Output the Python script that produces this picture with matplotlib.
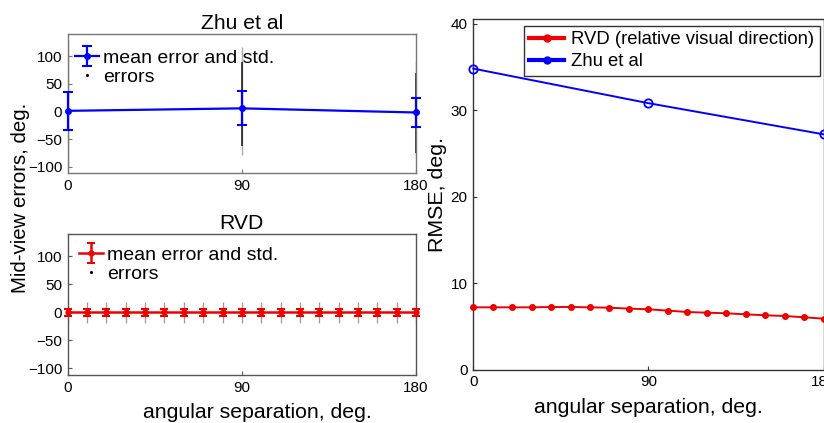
import matplotlib
matplotlib.use("Agg")
import matplotlib.pyplot as plt
from matplotlib.lines import Line2D

plt.rcParams['font.family'] = ['Liberation Sans', 'DejaVu Sans']

# ---- data ----
zhu_angles = [0, 90, 180]
zhu_mean = [1.0, 5.5, -2.0]
zhu_std = [34.5, 30.5, 27.0]
zhu_err_lo = [-105, -78, -82]      # extent of individual errors (light)
zhu_err_hi = [130, 117, 90]
zhu_core_lo = [-90, -63, -75]      # dense core of individual errors
zhu_core_hi = [100, 90, 70]

rvd_angles = [0, 10, 20, 30, 40, 50, 60, 70, 80, 90, 100, 110, 120, 130, 140, 150, 160, 170, 180]
rvd_mean = [0.0] * 19
rvd_std = [6.5] * 19
rvd_err_lo = [-19] * 19
rvd_err_hi = [19] * 19

zhu_rmse = [34.8, 30.8, 27.2]
rvd_rmse = [7.19, 7.19, 7.19, 7.19, 7.23, 7.23, 7.19, 7.15, 7.04, 6.96,
            6.81, 6.65, 6.57, 6.50, 6.38, 6.27, 6.19, 6.04, 5.88]

xticks = [0, 90, 180]
err_yticks = [-100, -50, 0, 50, 100]
rmse_yticks = [0, 10, 20, 30, 40]

BLUE = '#0000ff'
RED = '#ee0000'

W, H = 824, 423
fig = plt.figure(figsize=(W / 100, H / 100), dpi=100)


def box(l, r, t, b):
    return [l / W, 1 - b / H, (r - l) / W, (b - t) / H]


def style(ax, spine_col):
    for s in ax.spines.values():
        s.set_color(spine_col)
        s.set_linewidth(1.0)
    ax.tick_params(direction='in', length=3, width=0.8, colors=spine_col,
                   labelcolor='black', labelsize=11, pad=4)


ax1 = fig.add_axes(box(67.7, 416, 34, 173.3))
ax2 = fig.add_axes(box(67.7, 416, 234, 375))
ax3 = fig.add_axes(box(473.3, 823.5, 19.3, 369.5))

leg_kw = dict(loc='upper left', frameon=False, fontsize=14, handlelength=1.25,
              handletextpad=0.2, borderaxespad=0, borderpad=0.2, labelspacing=0.08)

# --- top-left: Zhu et al ---
ax1.vlines(zhu_angles, zhu_err_lo, zhu_err_hi, color='#aaaaaa', lw=1.0, zorder=1)
ax1.vlines(zhu_angles, zhu_core_lo, zhu_core_hi, color='#222222', lw=1.2, zorder=1)
ax1.errorbar(zhu_angles, zhu_mean, yerr=zhu_std, color=BLUE, marker='.', ms=8,
             lw=1.6, capsize=3.5, capthick=1.5, zorder=3, clip_on=False)
h_eb1 = ax1.containers[0]
h_pt = Line2D([], [], ls='none', marker='.', color='k', ms=2.5)
ax1.legend([h_eb1, h_pt], ['mean error and std.', 'errors'],
           bbox_to_anchor=(0.0095, 0.92), **leg_kw)
ax1.set_xlim(0, 180)
ax1.set_ylim(-112, 140)
ax1.set_xticks(xticks)
ax1.set_yticks(err_yticks)
ax1.set_title('Zhu et al', fontsize=15.2, pad=3.5)
style(ax1, '#777777')

# --- bottom-left: RVD ---
ax2.vlines(rvd_angles, rvd_err_lo, rvd_err_hi, color='#999999', lw=0.9, zorder=1)
ax2.errorbar(rvd_angles, rvd_mean, yerr=rvd_std, color=RED, marker='.', ms=7,
             lw=1.8, capsize=3, capthick=1.5, zorder=3, clip_on=False)
h_eb2 = ax2.containers[0]
ax2.legend([h_eb2, h_pt], ['mean error and std.', 'errors'],
           bbox_to_anchor=(0.02, 0.942), **leg_kw)
ax2.set_xlim(0, 180)
ax2.set_ylim(-112, 140)
ax2.set_xticks(xticks)
ax2.set_yticks(err_yticks)
ax2.set_title('RVD', fontsize=15.2, pad=3.5)
ax2.set_xlabel('angular separation, deg.', fontsize=15.3)
ax2.xaxis.set_label_coords(0.545, -0.2)
style(ax2, '#555555')

fig.text(21 / W, 1 - 198 / H, 'Mid-view errors, deg.', rotation=90,
         ha='center', va='center', fontsize=14.7)

# --- right: RMSE ---
ax3.plot(rvd_angles, rvd_rmse, color=RED, marker='o', ms=4, mfc=RED, mec=RED,
         lw=1.4, clip_on=False, zorder=3)
ax3.plot(zhu_angles, zhu_rmse, color=BLUE, marker='o', ms=6, mfc='none', mec=BLUE,
         mew=1.3, lw=1.4, clip_on=False, zorder=3)
ax3.set_xlim(0, 180)
ax3.set_ylim(0, 40.5)
ax3.set_xticks(xticks)
ax3.set_yticks(rmse_yticks)
ax3.set_xlabel('angular separation, deg.', fontsize=15.3, labelpad=6.5)
ax3.set_ylabel('RMSE, deg.', fontsize=15.4, labelpad=3)
style(ax3, '#333333')
lh = [Line2D([], [], color=RED, lw=3, marker='o', ms=5),
      Line2D([], [], color=BLUE, lw=3, marker='o', ms=5)]
leg = ax3.legend(lh, ['RVD (relative visual direction)', 'Zhu et al'],
                 loc='upper right', bbox_to_anchor=(0.99, 0.982), borderaxespad=0,
                 fontsize=13.3, fancybox=False, framealpha=1, edgecolor='#333333',
                 handlelength=1.9, handletextpad=0.38, borderpad=0.3, labelspacing=0.28)
leg.get_frame().set_linewidth(1.0)

fig.savefig('out.png', dpi=100)
